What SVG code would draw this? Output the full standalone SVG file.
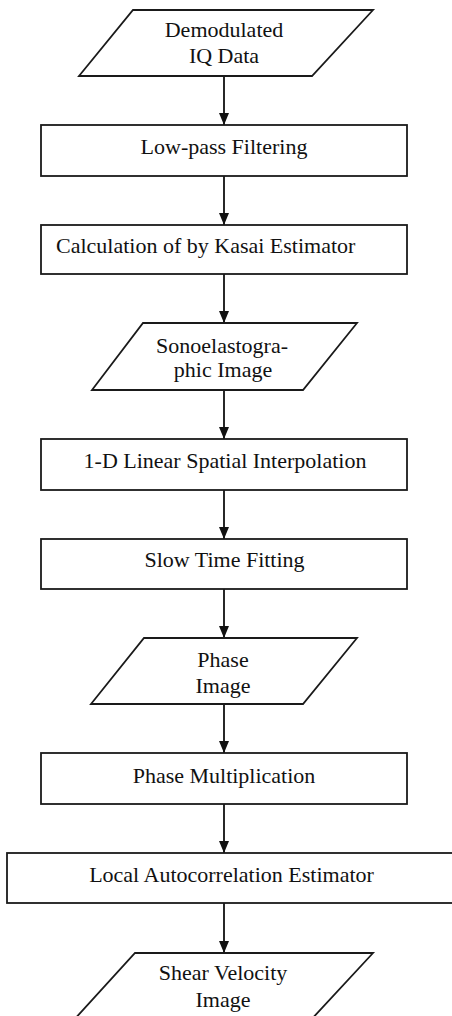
<svg xmlns="http://www.w3.org/2000/svg" width="452" height="1016" viewBox="0 0 452 1016">
  <style>
    .shape { fill: #ffffff; stroke: #1a1a1a; stroke-width: 1.8; }
    .label { font-family: 'Liberation Serif', 'DejaVu Serif', serif; font-size: 22px; fill: #111111; text-anchor: middle; }
    .edge { stroke: #111111; stroke-width: 1.8; fill: none; marker-end: url(#arrow); }
  </style>
  <defs>
    <marker id="arrow" viewBox="0 0 12 10" refX="12" refY="5" markerWidth="12" markerHeight="10" markerUnits="userSpaceOnUse" orient="auto">
      <path d="M0,0 L12,5 L0,10 Z" fill="#111111"/>
    </marker>
  </defs>
  <rect width="452" height="1016" fill="#ffffff"/>

  <!-- connectors -->
  <g id="connectors">
    <line class="edge" x1="224" y1="76" x2="224" y2="125"/>
    <line class="edge" x1="224" y1="176" x2="224" y2="225"/>
    <line class="edge" x1="224" y1="274" x2="224" y2="323"/>
    <line class="edge" x1="224" y1="390" x2="224" y2="439"/>
    <line class="edge" x1="224" y1="490" x2="224" y2="539"/>
    <line class="edge" x1="224" y1="589" x2="224" y2="638"/>
    <line class="edge" x1="224" y1="704" x2="224" y2="753"/>
    <line class="edge" x1="224" y1="804" x2="224" y2="853"/>
    <line class="edge" x1="224" y1="903" x2="224" y2="953"/>
  </g>

  <!-- input data -->
  <g id="node-iq-data" font-family="Liberation Serif, serif">
    <polygon class="shape" points="133,10 373,10 312,76 79,76"/>
    <text class="label" x="224" y="37">Demodulated</text>
    <text class="label" x="224" y="63">IQ Data</text>
  </g>

  <g id="node-lowpass">
    <rect class="shape" x="41" y="125" width="366" height="51"/>
    <text class="label" x="224" y="154">Low-pass Filtering</text>
  </g>

  <g id="node-kasai">
    <rect class="shape" x="41" y="225" width="366" height="49"/>
    <text class="label" x="56" y="253" style="text-anchor:start">Calculation of by Kasai Estimator</text>
  </g>

  <g id="node-sono-image">
    <polygon class="shape" points="143,323 357,323 303,390 92,390"/>
    <text class="label" x="222" y="353">Sonoelastogra-</text>
    <text class="label" x="223" y="377">phic Image</text>
  </g>

  <g id="node-interp">
    <rect class="shape" x="41" y="439" width="366" height="51"/>
    <text class="label" x="225" y="468">1-D Linear Spatial Interpolation</text>
  </g>

  <g id="node-slowtime">
    <rect class="shape" x="41" y="539" width="366" height="50"/>
    <text class="label" x="224.5" y="567">Slow Time Fitting</text>
  </g>

  <g id="node-phase-image">
    <polygon class="shape" points="144,638 357,638 303,704 91,704"/>
    <text class="label" x="223" y="667">Phase</text>
    <text class="label" x="223" y="693">Image</text>
  </g>

  <g id="node-phase-mult">
    <rect class="shape" x="41" y="753" width="366" height="51"/>
    <text class="label" x="224" y="783">Phase Multiplication</text>
  </g>

  <g id="node-autocorr">
    <rect class="shape" x="7" y="853" width="449" height="50"/>
    <text class="label" x="231.5" y="882">Local Autocorrelation Estimator</text>
  </g>

  <g id="node-shear-image">
    <polygon class="shape" points="135,953 373,953 309,1022 72,1022"/>
    <text class="label" x="223" y="980">Shear Velocity</text>
    <text class="label" x="223" y="1007">Image</text>
  </g>
</svg>
